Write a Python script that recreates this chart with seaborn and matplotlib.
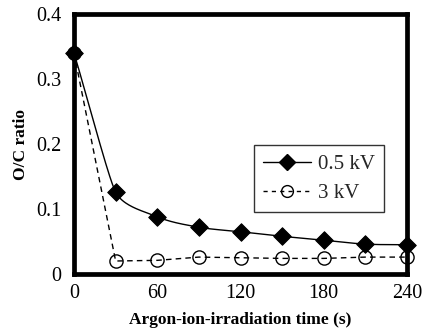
import numpy as np
import pandas as pd
import matplotlib
matplotlib.use("Agg")
import matplotlib.pyplot as plt
import seaborn as sns
from matplotlib.lines import Line2D

time_s = [0, 30, 60, 90, 120, 150, 180, 210, 240]
oc_05kv = [0.340, 0.126, 0.088, 0.072, 0.065, 0.058, 0.052, 0.046, 0.045]
oc_3kv = [0.340, 0.020, 0.021, 0.026, 0.025, 0.024, 0.024, 0.026, 0.026]
series_labels = ["0.5 kV", "3 kV"]
x_ticks = [0, 60, 120, 180, 240]
y_ticks = [0, 0.1, 0.2, 0.3, 0.4]
y_tick_labels = ["0", "0.1", "0.2", "0.3", "0.4"]

sns.set_theme(style="white")
plt.rcParams["font.family"] = ["Liberation Serif", "DejaVu Serif"]

# axes geometry (pixels)
AX_L, AX_R, AX_T, AX_B = 74, 407, 14, 274
XMAX, YMAX = 240.0, 0.4


def smooth_curve(x, y, n=40):
    # spreadsheet-like smoothed line drawn through the data points:
    # Bezier segments with tangents from neighbours, arms limited by the
    # shorter adjacent segment (computed in screen space)
    sxp = (AX_R - AX_L) / XMAX
    syp = (AX_B - AX_T) / YMAX
    P = np.column_stack([np.asarray(x, float) * sxp, np.asarray(y, float) * syp])
    m = len(P)
    L = np.linalg.norm(np.diff(P, axis=0), axis=1)
    T = np.zeros_like(P)
    for i in range(m):
        if i == 0:
            d = P[1] - P[0]
        elif i == m - 1:
            d = P[-1] - P[-2]
        else:
            d = P[i + 1] - P[i - 1]
        T[i] = d / np.linalg.norm(d)
    t = np.linspace(0, 1, n)
    out = []
    for i in range(m - 1):
        p1, p2 = P[i], P[i + 1]
        a1 = min(L[i], L[i - 1]) if i > 0 else L[i]
        a2 = min(L[i], L[i + 1]) if i < m - 2 else L[i]
        c1 = p1 + T[i] * a1 / 3.0
        c2 = p2 - T[i + 1] * a2 / 3.0
        b = ((1 - t) ** 3)[:, None] * p1 + (3 * (1 - t) ** 2 * t)[:, None] * c1 \
            + (3 * (1 - t) * t ** 2)[:, None] * c2 + (t ** 3)[:, None] * p2
        out.append(b)
    B = np.vstack(out)
    return B[:, 0] / sxp, B[:, 1] / syp


fig = plt.figure(figsize=(4.22, 3.30), dpi=100)
ax = fig.add_axes([AX_L / 422, 1 - AX_B / 330, (AX_R - AX_L) / 422, (AX_B - AX_T) / 330])

sx, sy = smooth_curve(time_s, oc_05kv)
smooth_df = pd.DataFrame({"t": sx, "v": sy})
sns.lineplot(data=smooth_df, x="t", y="v", ax=ax, color="black", lw=1.0,
             sort=False, estimator=None, zorder=3)
df05 = pd.DataFrame({"t": time_s, "v": oc_05kv})
sns.scatterplot(data=df05, x="t", y="v", ax=ax, marker="D", s=80,
                color="black", edgecolor="black", zorder=5, clip_on=False)

df3 = pd.DataFrame({"t": time_s, "v": oc_3kv})
sns.lineplot(data=df3, x="t", y="v", ax=ax, color="black", lw=1.0,
             linestyle=(0, (4, 3)), estimator=None, zorder=4)
ax.plot(time_s, oc_3kv, linestyle="none", marker="o", ms=9.5,
        mfc="none", mec="black", mew=1.0, zorder=6, clip_on=False)

ax.set_xlim(0, XMAX)
ax.set_ylim(0, YMAX)
ax.set_xticks(x_ticks)
ax.set_xticklabels([str(v) for v in x_ticks])
ax.set_yticks(y_ticks)
ax.set_yticklabels(y_tick_labels)
ax.tick_params(direction="in", length=5, width=1.0, colors="black",
               labelsize=14.5, pad=9)
ax.tick_params(axis="x", pad=7)
for s in ax.spines.values():
    s.set_visible(True)
    s.set_color("black")
    s.set_linewidth(3.4)

ax.set_xlabel("Argon-ion-irradiation time (s)", fontsize=12.5, fontweight="bold",
              color="black", labelpad=7)
ax.set_ylabel("O/C ratio", fontsize=12.5, fontweight="bold", color="black",
              labelpad=5)

handles = [
    Line2D([], [], color="black", lw=1.0, marker="D", ms=8, mfc="black"),
    Line2D([], [], color="black", lw=1.0, linestyle=(0, (3, 3)), marker="o",
           ms=8.5, mfc="none", mec="black"),
]
leg = ax.legend(handles, series_labels, loc="upper left",
                bbox_to_anchor=((254 - AX_L) / (AX_R - AX_L), (AX_B - 145) / (AX_B - AX_T)),
                frameon=True, fancybox=False, edgecolor="black",
                fontsize=15, handlelength=2.3, borderpad=0.45,
                labelspacing=0.45, handletextpad=0.3, borderaxespad=0)
leg.get_frame().set_linewidth(1.0)

fig.savefig("out.png", dpi=100, facecolor="white")
